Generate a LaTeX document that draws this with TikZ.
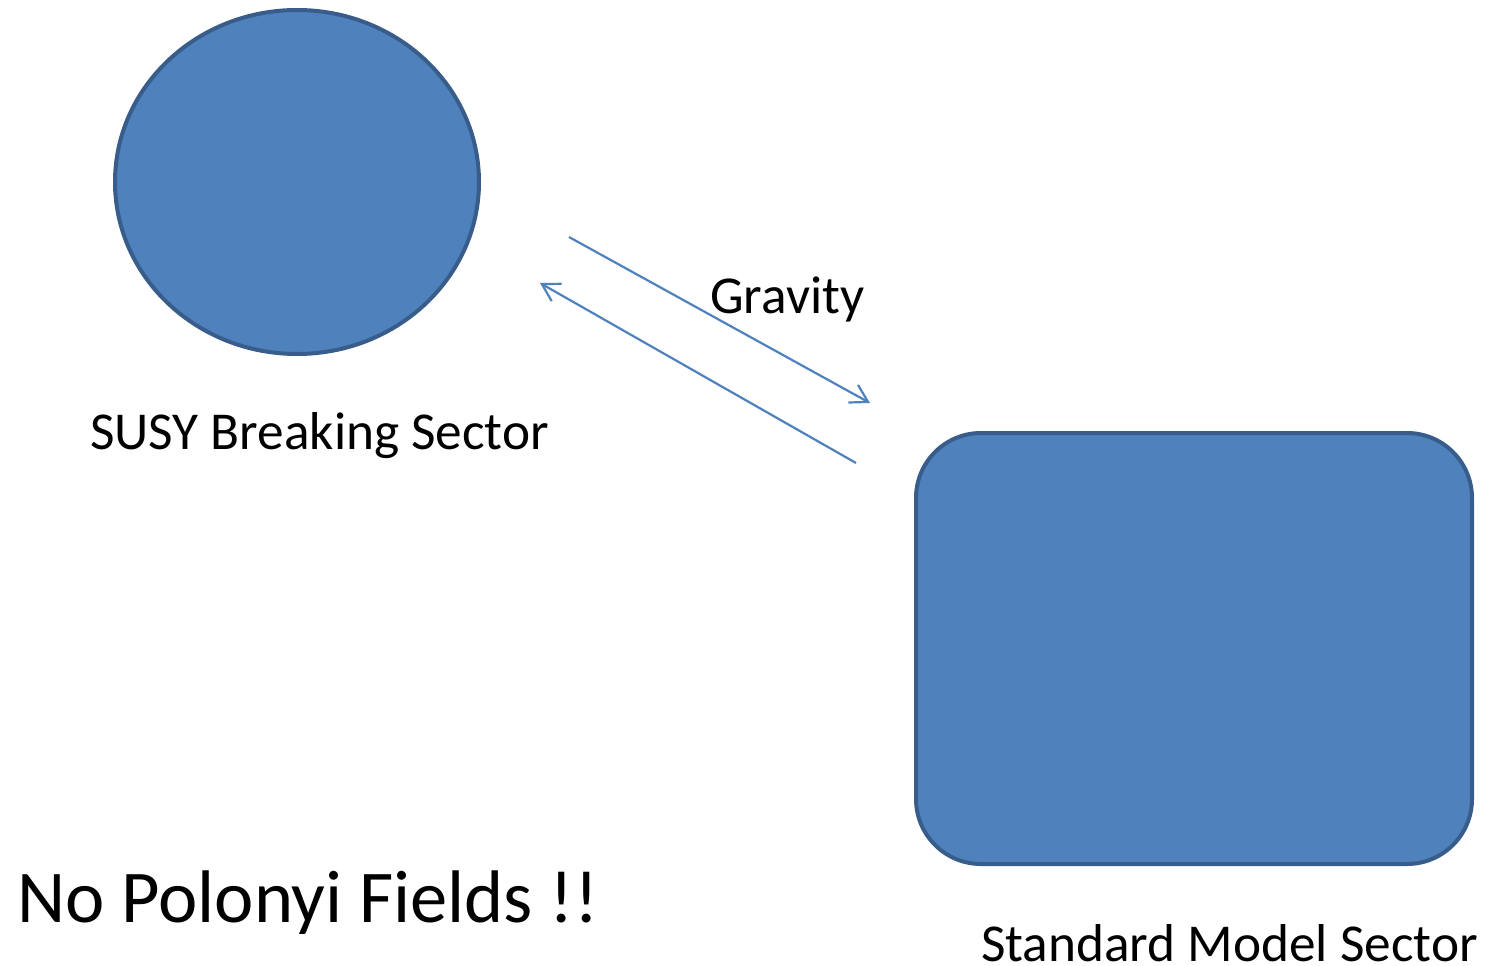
\documentclass[tikz,border=0pt]{standalone}
\usepackage{fontspec}
\setmainfont{Carlito}
\usetikzlibrary{arrows.meta,shapes.geometric}
\definecolor{fillblue}{HTML}{4F81BD}
\definecolor{edgeblue}{HTML}{385D8A}
\begin{document}
\begin{tikzpicture}[x=1pt,y=-1pt,
  shapebox/.style={fill=fillblue,draw=edgeblue,line width=4pt},
  link/.style={draw=fillblue,line width=2.2pt,-{Straight Barb[length=17pt,width=20pt,line width=2.2pt]}},
  lbl/.style={anchor=base west,inner sep=0pt,font=\fontsize{53.3}{56}\selectfont},
  big/.style={anchor=base west,inner sep=0pt,font=\fontsize{74.5}{78}\selectfont}]
\useasboundingbox (0,0) rectangle (1491,966);
% SUSY breaking sector
\node[shapebox,ellipse,minimum width=364pt,minimum height=344pt,inner sep=0pt] (susy) at (297,182) {};
% Standard model sector
\node[shapebox,rounded corners=65pt,minimum width=556pt,minimum height=431pt,inner sep=0pt] (sm) at (1194,648.5) {};
% gravity links
\coordinate (a1s) at (569,237);
\coordinate (a1e) at (870,403);
\coordinate (a2s) at (856,463);
\coordinate (a2e) at (540,283);
\draw[link] (a1s) -- (a1e);
\draw[link] (a2s) -- (a2e);
% labels
\node[lbl] (tsusy) at (90,449) {SUSY Breaking Sector};
\node[lbl] (tgrav) at (710,313) {Gravity};
\node[lbl] (tsm) at (981,961) {Standard Model Sector};
\node[big] (tno) at (17,922) {No Polonyi Fields !!};
\end{tikzpicture}
\end{document}
